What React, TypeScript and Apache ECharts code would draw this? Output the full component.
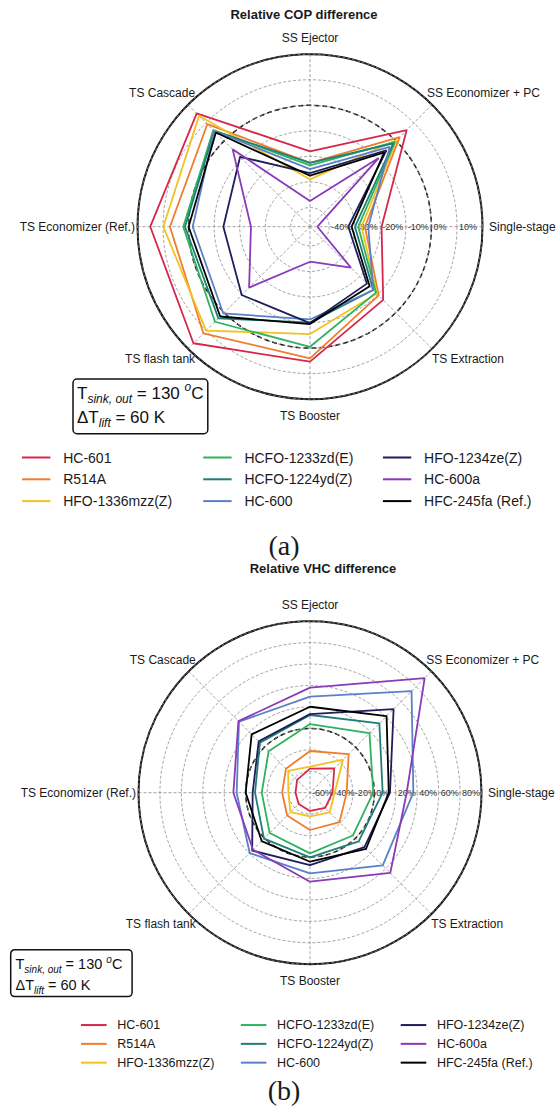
import React, { useEffect, useRef } from "react";
import * as echarts from "echarts";

// Spokes, clockwise from 3 o'clock
const CATEGORIES = [
  "Single-stage",
  "TS Extraction",
  "TS Booster",
  "TS flash tank",
  "TS Economizer (Ref.)",
  "TS Cascade",
  "SS Ejector",
  "SS Economizer + PC",
];

// Rich-text style key for each spoke label (controls the offset from the rim)
const LABEL_STYLE_KEYS = ["e", "se", "s", "sw", "w", "nw", "n", "ne"];

const REFRIGERANTS = [
  "HC-601",
  "R514A",
  "HFO-1336mzz(Z)",
  "HCFO-1233zd(E)",
  "HCFO-1224yd(Z)",
  "HC-600",
  "HFO-1234ze(Z)",
  "HC-600a",
  "HFC-245fa (Ref.)",
];

const COLORS = [
  "#d7264b",
  "#ef7d2d",
  "#f2c21f",
  "#2db35d",
  "#1f7f74",
  "#5b80c8",
  "#1d1f5c",
  "#8a3ab9",
  "#000000",
];

// Relative COP difference (%), same order as CATEGORIES
const COP_HC601 = [-19.5, -7, 5.3, 17, 15, 15.2, -18, 6];
const COP_R514A = [-26, -9.5, 4, 11.5, 7.3, 9.3, -22.5, 2.1];
const COP_HFO1336 = [-27.3, -10.5, -5.5, 10, 9.9, 13.9, -29, 0.5];
const COP_HCFO1233 = [-28.6, -11, -0.5, 5.1, 2.1, 6, -23.5, -0.5];
const COP_HCFO1224 = [-29.9, -12.5, -10, 3.2, 1.4, 5.5, -22.5, -1.4];
const COP_HC600 = [-24.7, -12.5, -11.2, 0.5, -1.6, 5.5, -25, -3.3];
const COP_HFO1234 = [-32.5, -16, -9.8, -9.7, -13.6, -8.8, -26.5, -5.2];
const COP_HC600A = [-44.6, -24.8, -33.8, -13.8, -24.4, -4.7, -37.4, -9.5];
const COP_HFC245 = [-31.2, -14.5, -9.4, 2.2, 0, 4.6, -27.5, -6.4];

// Relative VHC difference (%), same order as CATEGORIES
const VHC_HC601 = [-39, -40, -43, -45, -46.5, -43, -37.5, -28];
const VHC_R514A = [-25.8, -21.1, -25.2, -29.9, -34, -28.3, -21.1, -9];
const VHC_HFO1336 = [-37, -34, -38, -34.3, -39.8, -31.2, -35.7, -16.5];
const VHC_HCFO1233 = [-1, -3.5, -3.4, -6.8, -15, -5.4, 4, 18.5];
const VHC_HCFO1224 = [7.8, 4.2, 0.3, 0.7, -8.7, 6, 12.5, 31.5];
const VHC_HC600 = [36.4, 36, 15.3, 19.6, 8.4, 33.7, 29.6, 74];
const VHC_HFO1234 = [14.6, 11.9, 7.5, 16.3, -6.5, 7.7, 13.3, 50.3];
const VHC_HC600A = [30.2, 45.9, 23, 15.2, 11.5, 34.4, 38, 91.3];
const VHC_HFC245 = [13.5, 14, 4.4, 3.8, 0, 17, 20.2, 41];

const COP_SERIES = [
  COP_HC601, COP_R514A, COP_HFO1336, COP_HCFO1233, COP_HCFO1224,
  COP_HC600, COP_HFO1234, COP_HC600A, COP_HFC245,
];
const VHC_SERIES = [
  VHC_HC601, VHC_R514A, VHC_HFO1336, VHC_HCFO1233, VHC_HCFO1224,
  VHC_HC600, VHC_HFO1234, VHC_HC600A, VHC_HFC245,
];

// Radial ranges (%)
const COP_RANGE = [-47.5, 20];
const VHC_RANGE = [-60, 100];

const FONT = "'Liberation Sans', Arial, sans-serif";
const SERIF = "'Liberation Serif', 'Times New Roman', serif";
const ANGLE_STEP = 360 / CATEGORIES.length;

const W = 557;
const H = 1106;

type ChartLayout = {
  cx: number;
  cy: number;
  r: number;
  range: number[];
  splitNumber: number;
};

const TOP: ChartLayout = { cx: 310, cy: 226.7, r: 172.5, range: COP_RANGE, splitNumber: 7 };
const BOTTOM: ChartLayout = { cx: 310, cy: 792.7, r: 171.5, range: VHC_RANGE, splitNumber: 8 };

function closedLoop(values: number[]) {
  const pts = values.map((v, i) => [v, i * ANGLE_STEP]);
  pts.push([values[0], 360]);
  return pts;
}

// padding: [top, right, bottom, left]
const spokeRich = {
  e: { padding: [0, 0, 0, 16.5] },
  se: { padding: [11.5, 0, 0, 7] },
  s: { padding: [20.5, 0, 0, 0] },
  sw: { padding: [11.5, 0, 0, 0] },
  w: { padding: [0, 12.5, 0, 0] },
  nw: { padding: [0, 0, 13, 0] },
  n: { padding: [0, 0, 20.5, 0] },
  ne: { padding: [0, 0, 13, 2] },
};

function polarParts(layout: ChartLayout, basePolar: number) {
  const [min, max] = layout.range;
  const refRadius = (layout.r * (0 - min)) / (max - min);
  const polar = [
    { center: [layout.cx, layout.cy], radius: layout.r },
    { center: [layout.cx, layout.cy], radius: refRadius },
  ];
  const angleAxis = [
    {
      polarIndex: basePolar,
      type: "value",
      min: 0,
      max: 360,
      interval: ANGLE_STEP,
      startAngle: 0,
      clockwise: true,
      axisLine: { show: true, lineStyle: { color: "#111", width: 2 } },
      axisTick: { show: false },
      axisLabel: {
        show: true,
        margin: -10,
        fontSize: 12,
        fontFamily: FONT,
        color: "#1a1a1a",
        rich: spokeRich,
        formatter: (v: number) => {
          const i = Math.round(v / ANGLE_STEP);
          return i < CATEGORIES.length
            ? `{${LABEL_STYLE_KEYS[i]}|${CATEGORIES[i]}}`
            : "";
        },
      },
      splitLine: {
        show: true,
        lineStyle: { color: "#8a8a8a", width: 0.8, type: [3, 2] },
      },
    },
    {
      polarIndex: basePolar + 1,
      type: "value",
      min: 0,
      max: 360,
      startAngle: 0,
      clockwise: true,
      axisLine: { show: true, lineStyle: { color: "#111", width: 1.5, type: [5, 3] } },
      axisTick: { show: false },
      axisLabel: { show: false },
      splitLine: { show: false },
    },
  ];
  const radiusAxis = [
    {
      polarIndex: basePolar,
      type: "value",
      min,
      max,
      splitNumber: layout.splitNumber,
      axisLine: { show: false },
      axisTick: { show: false },
      axisLabel: {
        show: true,
        showMinLabel: min % 10 === 0,
        showMaxLabel: false,
        margin: 0,
        align: "left",
        verticalAlign: "middle",
        padding: [0, 0, 0, 2],
        fontSize: 9,
        fontFamily: FONT,
        color: "#333",
        formatter: (v: number) => `${v}%`,
      },
      splitLine: {
        show: true,
        lineStyle: { color: "#8a8a8a", width: 0.8, type: [3, 2] },
      },
      z: 3,
    },
    {
      polarIndex: basePolar + 1,
      type: "value",
      min: 0,
      max: 1,
      show: false,
    },
  ];
  return { polar, angleAxis, radiusAxis };
}

function buildSeries(data: number[][], polarIndex: number) {
  return data.map((values, i) => ({
    type: "line",
    name: REFRIGERANTS[i],
    coordinateSystem: "polar",
    polarIndex,
    data: closedLoop(values),
    showSymbol: false,
    symbol: "none",
    clip: false,
    color: COLORS[i],
    lineStyle: { color: COLORS[i], width: 1.8 },
    z: 4 + i * 0.01,
  }));
}

function buildLegends(
  cols: number[],
  iconW: number,
  top: number,
  gap: number,
  fontSize: number,
  lineHeight: number,
  textGap: number
) {
  return cols.map((left, ci) => ({
    orient: "vertical",
    left,
    top,
    padding: 0,
    itemGap: gap,
    itemWidth: iconW,
    itemHeight: 2,
    icon: "rect",
    selectedMode: false,
    data: REFRIGERANTS.slice(ci * 3, ci * 3 + 3),
    textStyle: {
      fontSize,
      lineHeight,
      fontFamily: FONT,
      color: "#1a1a1a",
      padding: [0, 0, 0, textGap],
    },
  }));
}

function conditionsBox(
  x: number,
  y: number,
  w: number,
  h: number,
  textX: number,
  textY: number,
  size: number,
  subSize: number,
  lineH: number
) {
  return [
    {
      type: "rect",
      shape: { x, y, width: w, height: h, r: 4 },
      style: { fill: "#fff", stroke: "#111", lineWidth: 1.5 },
      z: 10,
    },
    {
      type: "text",
      x: textX,
      y: textY,
      z: 11,
      style: {
        text:
          "{m|T}{s|sink, out}{m| = 130 }{p|o}{m|C}\n{m|ΔT}{s|lift}{m| = 60 K}",
        fill: "#111",
        rich: {
          m: { fontSize: size, lineHeight: lineH, fontFamily: FONT, fill: "#111" },
          s: {
            fontSize: subSize,
            fontStyle: "italic",
            lineHeight: subSize + 1,
            verticalAlign: "bottom",
            fontFamily: FONT,
            fill: "#111",
          },
          p: {
            fontSize: subSize,
            fontStyle: "italic",
            lineHeight: subSize + 1,
            verticalAlign: "top",
            fontFamily: FONT,
            fill: "#111",
          },
        },
      },
    },
  ];
}

function centeredText(text: string, x: number, y: number, size: number, family: string, bold = false) {
  return {
    type: "text",
    x,
    y,
    style: {
      text,
      fontSize: size,
      fontWeight: bold ? "bold" : "normal",
      fontFamily: family,
      fill: "#1a1a1a",
      align: "center",
      verticalAlign: "middle",
    },
  };
}

export default function App() {
  const ref = useRef<HTMLDivElement>(null);

  useEffect(() => {
    if (!ref.current) return;
    const chart = echarts.init(ref.current, undefined, { renderer: "svg" });

    const top = polarParts(TOP, 0);
    const bottom = polarParts(BOTTOM, 2);

    const option = {
      animation: false,
      backgroundColor: "#fff",
      polar: [...top.polar, ...bottom.polar],
      angleAxis: [...top.angleAxis, ...bottom.angleAxis],
      radiusAxis: [...top.radiusAxis, ...bottom.radiusAxis],
      legend: [
        ...buildLegends([22, 203.2, 382.9], 28.4, 449.5, 5.8, 14, 16, 7.8),
        ...buildLegends([81, 240.8, 400.7], 25.6, 1017.8, 4.3, 12.5, 14.5, 5.6),
      ],
      series: [...buildSeries(COP_SERIES, 0), ...buildSeries(VHC_SERIES, 2)],
      graphic: [
        centeredText("Relative COP difference", 304, 14, 13, FONT, true),
        centeredText("Relative VHC difference", 323, 568, 13, FONT, true),
        ...conditionsBox(73, 379, 134.8, 54.7, 77, 381.4, 17, 12, 24),
        ...conditionsBox(10.7, 949.7, 121.4, 46.9, 15.5, 954, 14.5, 10, 20.5),
        centeredText("(a)", 284, 545, 28, SERIF),
        centeredText("(b)", 284, 1090, 28, SERIF),
      ],
    };

    chart.setOption(option as any);
    return () => chart.dispose();
  }, []);

  return (
    <div
      ref={ref}
      style={{ position: "absolute", left: 0, top: 0, width: W, height: H }}
    />
  );
}
